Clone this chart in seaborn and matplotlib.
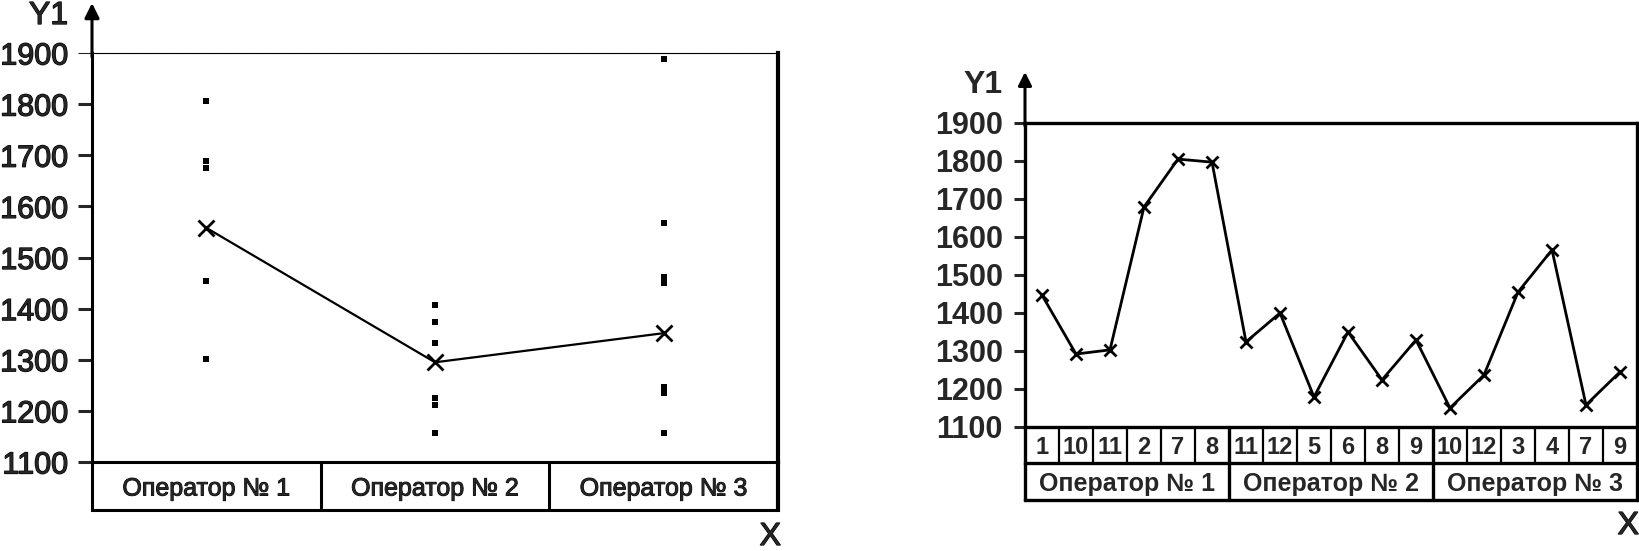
import numpy as np
import pandas as pd
import matplotlib
matplotlib.use("Agg")
import matplotlib.pyplot as plt
import matplotlib.patheffects as pe
import seaborn as sns

# ---------------- data ----------------
operators = ["Оператор № 1", "Оператор № 2", "Оператор № 3"]
operator_means = [1558, 1295, 1352]
op1_points = [1806, 1689, 1676, 1454, 1302]
op2_points = [1407, 1374, 1332, 1226, 1211, 1157]
op3_points = [1888, 1567, 1462, 1450, 1246, 1235, 1157]

part_labels = ["1", "10", "11", "2", "7", "8",
               "11", "12", "5", "6", "8", "9",
               "10", "12", "3", "4", "7", "9"]
part_values = [1447, 1292, 1303, 1679, 1805, 1797,
               1324, 1400, 1179, 1350, 1224, 1329,
               1150, 1237, 1455, 1566, 1158, 1245]
parts_per_operator = 6

y_ticks = [1100, 1200, 1300, 1400, 1500, 1600, 1700, 1800, 1900]

# ---------------- style ----------------
sns.set_style("white")
plt.rcParams['font.family'] = ['Liberation Sans', 'DejaVu Sans']
thick = [pe.withStroke(linewidth=0.9, foreground="black")]

W, H = 1639, 551
fig = plt.figure(figsize=(W / 100, H / 100), dpi=100)


def px_axes(x0, y0, x1, y1):
    return fig.add_axes([x0 / W, 1 - y1 / H, (x1 - x0) / W, (y1 - y0) / H])


# ================= left panel =================
ax1 = px_axes(92, 53, 778, 462)
pts = pd.DataFrame({
    "pos": [0] * len(op1_points) + [1] * len(op2_points) + [2] * len(op3_points),
    "val": op1_points + op2_points + op3_points,
})
sns.scatterplot(data=pts, x="pos", y="val", marker="s", s=13, color="black",
                edgecolor="black", linewidth=0, ax=ax1, legend=False)
sns.lineplot(x=np.arange(len(operators)), y=operator_means, color="black", lw=1.6,
             marker="x", markersize=12, markeredgewidth=2, markeredgecolor="black",
             ax=ax1)
ax1.set_xlim(-0.5, len(operators) - 0.5)
ax1.set_ylim(1100, 1900)
ax1.set_yticks(y_ticks)
ax1.set_yticklabels([str(v) for v in y_ticks], fontsize=22)
for lbl in ax1.get_yticklabels():
    lbl.set_path_effects(thick)
ax1.set_xticks([])
ax1.set_xlabel("")
ax1.set_ylabel("")
ax1.tick_params(axis="y", direction="out", length=10, width=2.2, pad=7, left=True)
ax1.yaxis.get_major_ticks()[-1].tick1line.set_markeredgewidth(0.8)
for s in ["left", "bottom"]:
    ax1.spines[s].set_linewidth(2.2)
    ax1.spines[s].set_color("black")
ax1.spines["right"].set_linewidth(3)
ax1.spines["right"].set_color("black")
ax1.spines["top"].set_linewidth(0.8)
ax1.spines["top"].set_linestyle((0, (1, 0.6)))
ax1.spines["top"].set_color("black")

t1 = ax1.get_xaxis_transform()
yb = -48 / 409
for xv in [-0.5, 0.5, 1.5]:
    ax1.plot([xv, xv], [0, yb], transform=t1, color="black", lw=2.2, clip_on=False)
ax1.plot([2.5, 2.5], [0, yb], transform=t1, color="black", lw=3, clip_on=False)
ax1.plot([-0.5, 2.5], [yb, yb], transform=t1, color="black", lw=2.2, clip_on=False,
         solid_capstyle="projecting")
for i, op in enumerate(operators):
    ax1.text(i, yb / 2, op, transform=t1, ha="center", va="center_baseline", fontsize=18,
             path_effects=[pe.withStroke(linewidth=0.7, foreground="black")])
ax1.annotate("", xy=(0, 1.122), xytext=(0, 0.99), xycoords="axes fraction",
             arrowprops=dict(arrowstyle="-|>", lw=2.2, color="black", mutation_scale=22,
                             shrinkA=0, shrinkB=0), annotation_clip=False)
fig.text(68 / W, 1 - 16 / H, "Y1", ha="right", va="center", fontsize=23, path_effects=thick)
fig.text(781 / W, 1 - 537 / H, "X", ha="right", va="center", fontsize=23, path_effects=thick)

# ================= right panel =================
ax2 = px_axes(1025, 123, 1637, 427)
positions = np.arange(len(part_values))
sns.lineplot(x=positions, y=part_values, color="black", lw=2, marker="x",
             markersize=9, markeredgewidth=2, markeredgecolor="black", ax=ax2)
ax2.set_xlim(-0.5, len(part_values) - 0.5)
ax2.set_ylim(1100, 1900)
ax2.set_yticks(y_ticks)
ax2.set_yticklabels([str(v) for v in y_ticks], fontsize=22, fontweight="bold")
ax2.set_xticks([])
ax2.set_xlabel("")
ax2.set_ylabel("")
ax2.tick_params(axis="y", direction="out", length=8, width=2.2, pad=8, left=True)
for s in ["left", "bottom", "top", "right"]:
    ax2.spines[s].set_linewidth(2.4)
    ax2.spines[s].set_color("black")

t2 = ax2.get_xaxis_transform()
yb1 = -36 / 304
yb2 = -73 / 304
n = len(part_values)
for k in range(n + 1):
    xv = k - 0.5
    major = (k % parts_per_operator == 0)
    ax2.plot([xv, xv], [0, yb2 if major else yb1], transform=t2, color="black",
             lw=2.4 if major else 1.6, clip_on=False)
for yv in [yb1, yb2]:
    ax2.plot([-0.5, n - 0.5], [yv, yv], transform=t2, color="black", lw=2.4,
             clip_on=False, solid_capstyle="projecting")
for i, lab in enumerate(part_labels):
    ax2.text(i, yb1 / 2, lab, transform=t2, ha="center", va="center_baseline",
             fontsize=17, fontweight="bold")
for k, op in enumerate(operators):
    ax2.text(k * parts_per_operator + (parts_per_operator - 1) / 2, (yb1 + yb2) / 2, op,
             transform=t2, ha="center", va="center_baseline", fontsize=18, fontweight="bold")
ax2.annotate("", xy=(0, 1.168), xytext=(0, 0.99), xycoords="axes fraction",
             arrowprops=dict(arrowstyle="-|>", lw=2.2, color="black", mutation_scale=20,
                             shrinkA=0, shrinkB=0), annotation_clip=False)
fig.text(1003 / W, 1 - 85 / H, "Y1", ha="right", va="center", fontsize=23, fontweight="bold")
fig.text(1639 / W, 1 - 526 / H, "X", ha="right", va="center", fontsize=23, path_effects=thick)

fig.savefig("out.png", dpi=100)
